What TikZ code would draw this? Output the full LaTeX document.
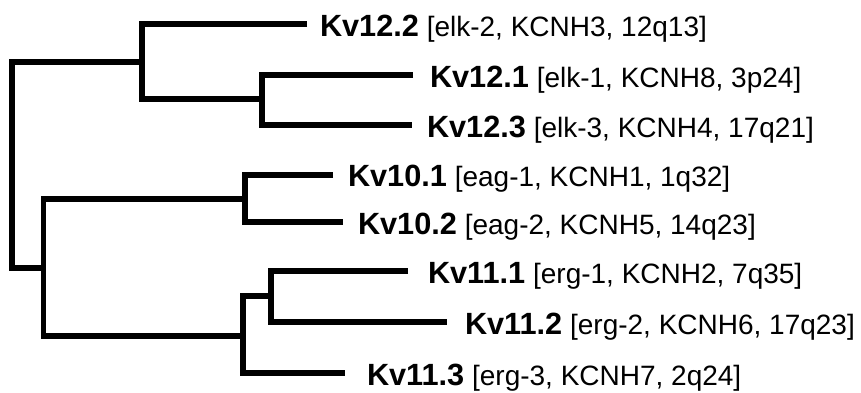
\documentclass[tikz,border=0pt]{standalone}
\usepackage{fontspec}
\setmainfont{Liberation Sans}
\newcommand\kvname[1]{{\fontsize{30.7}{36}\selectfont\bfseries #1}}
\begin{document}
\begin{tikzpicture}[x=1pt,y=-1pt,
  branch/.style={line width=5.5pt,line join=miter,line cap=butt,black},
  leaf/.style={anchor=base west,inner sep=0pt,outer sep=0pt,font=\fontsize{28}{33}\selectfont}]
\useasboundingbox (0,0) rectangle (861,392);
% internal nodes
\coordinate (root) at (12,165);
\coordinate (n1) at (142,62);
\coordinate (n2) at (262,99);
\coordinate (n3) at (43.5,268);
\coordinate (n4) at (245,199);
\coordinate (n5) at (243,336);
\coordinate (n6) at (271,296);
% leaf ends
\coordinate (e122) at (307,24);
\coordinate (e121) at (413,75);
\coordinate (e123) at (412,125);
\coordinate (e101) at (333,175);
\coordinate (e102) at (343,222);
\coordinate (e111) at (408,271);
\coordinate (e112) at (447,322);
\coordinate (e113) at (345,373);
% branches
\draw[branch] (n1) -| (root) |- (n3);
\draw[branch] (e122) -| (n1) |- (n2);
\draw[branch] (e121) -| (n2) |- (e123);
\draw[branch] (n4) -| (n3) |- (n5);
\draw[branch] (e101) -| (n4) |- (e102);
\draw[branch] (n6) -| (n5) |- (e113);
\draw[branch] (e111) -| (n6) |- (e112);
% labels
\node[leaf] (l122) at (320,36) {\kvname{Kv12.2} [elk-2, KCNH3, 12q13]};
\node[leaf] (l121) at (430,87) {\kvname{Kv12.1} [elk-1, KCNH8, 3p24]};
\node[leaf] (l123) at (427,137) {\kvname{Kv12.3} [elk-3, KCNH4, 17q21]};
\node[leaf] (l101) at (348,186) {\kvname{Kv10.1} [eag-1, KCNH1, 1q32]};
\node[leaf] (l102) at (358,234) {\kvname{Kv10.2} [eag-2, KCNH5, 14q23]};
\node[leaf] (l111) at (428,283) {\kvname{Kv11.1} [erg-1, KCNH2, 7q35]};
\node[leaf] (l112) at (465,334) {\kvname{Kv11.2} [erg-2, KCNH6, 17q23]};
\node[leaf] (l113) at (367,385) {\kvname{Kv11.3} [erg-3, KCNH7, 2q24]};
\end{tikzpicture}
\end{document}
